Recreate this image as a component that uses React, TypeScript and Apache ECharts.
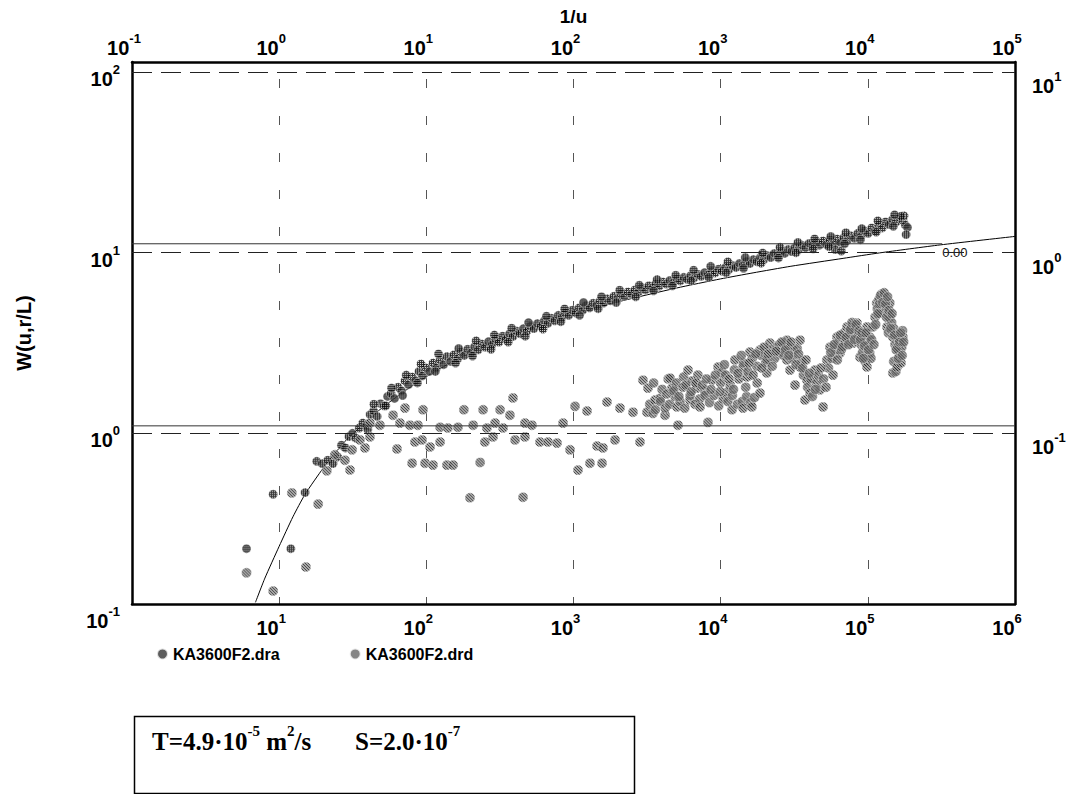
import React, { useEffect, useRef } from 'react';
import * as echarts from 'echarts';

// ---------------- data ----------------
const seriesNames = ['KA3600F2.dra', 'KA3600F2.drd'];

// time t (bottom axis) vs W (left axis)
const draData: number[][] = [
  [6.0, 0.23], [9.1, 0.46], [12.0, 0.23], [15.0, 0.47], [18.0, 0.70], [19.6, 0.68], [21.4, 0.71], [23.2, 0.68],
  [25.0, 0.74], [26.5, 0.86], [28.2, 0.83], [29.8, 0.96], [31.5, 1.0], [33.2, 0.94], [35.0, 1.07], [37.0, 1.14],
  [39.2, 1.1], [41.5, 1.27], [43.8, 1.33], [46.3, 1.24], [48.9, 1.46], [51.6, 1.42], [54.5, 1.6], [57.6, 1.66],
  [60.8, 1.56], [64.2, 1.8], [67.8, 1.72], [71.6, 1.95], [75.6, 1.86], [79.9, 2.05], [84.4, 1.96], [89.1, 2.2],
  [94.1, 2.08], [99.4, 2.3], [105, 2.2], [111, 2.45], [117, 2.3], [124, 2.55], [131, 2.4], [138, 2.66],
  [146, 2.5], [154, 2.72], [163, 2.58], [172, 2.82], [181, 2.7], [191, 2.92], [202, 2.8], [213, 3.02],
  [225, 2.9], [238, 3.12], [251, 3.0], [265, 3.22], [280, 3.1], [296, 3.32], [312, 3.2], [330, 3.45],
  [348, 3.32], [368, 3.56], [388, 3.44], [410, 3.68], [433, 3.56], [457, 3.8], [483, 3.68], [510, 3.92],
  [538, 3.8], [568, 4.05], [600, 3.92], [634, 4.2], [669, 4.06], [707, 4.34], [746, 4.2], [788, 4.5],
  [832, 4.36], [879, 4.64], [928, 4.5], [980, 4.8], [1035, 4.64], [1093, 4.95], [1154, 4.8], [1219, 5.1],
  [1287, 4.95], [1359, 5.25], [1435, 5.1], [1516, 5.4], [1601, 5.26], [1690, 5.56], [1785, 5.42], [1885, 5.74],
  [1991, 5.58], [2102, 5.9], [2220, 5.74], [2345, 6.06], [2476, 5.9], [2615, 6.22], [2761, 6.06], [2916, 6.4],
  [3079, 6.22], [3252, 6.56], [3434, 6.38], [3626, 6.72], [3829, 6.54], [4044, 6.88], [4270, 6.7], [4509, 7.02],
  [4762, 6.84], [5028, 7.16], [5310, 6.98], [5607, 7.3], [5921, 7.12], [6253, 7.45], [6603, 7.26], [6973, 7.6],
  [7363, 7.4], [7776, 7.76], [8211, 7.55], [8671, 7.92], [9157, 7.72], [9669, 8.1], [10210, 7.9], [10780, 8.3],
  [11390, 8.08], [12020, 8.5], [12700, 8.28], [13410, 8.72], [14160, 8.48], [14950, 8.94], [15790, 8.7], [16670, 9.16],
  [17610, 8.92], [18590, 9.4], [19630, 9.15], [20730, 9.64], [21890, 9.4], [23120, 9.9], [24410, 9.64], [25780, 10.15],
  [27220, 9.9], [28750, 10.42], [30360, 10.15], [32060, 10.7], [33850, 10.4], [35750, 10.98], [37750, 10.65], [39860, 11.25],
  [42090, 10.9], [44450, 11.45], [46940, 11.0], [49570, 11.6], [52340, 11.1], [55270, 11.75], [58370, 11.25], [60000, 10.4],
  [61640, 11.9], [65090, 11.4], [66000, 10.2], [68730, 12.1], [72580, 11.7], [76640, 12.4], [80930, 12.0], [85460, 12.8],
  [90250, 12.4], [95300, 13.2], [100600, 12.8], [106300, 13.7], [112200, 13.2], [118500, 14.2], [125100, 13.7], [132100, 14.8],
  [139500, 14.3], [147300, 15.3], [155600, 14.8], [164300, 15.6], [173500, 15.0], [180000, 14.2], [186000, 13.8], [176000, 16.0],
  [168000, 15.9], [182000, 12.6],
  // upper / lower edges of the band
  [40, 1.05], [44, 1.45], [53, 1.42], [58, 1.78], [69, 1.62], [73, 2.1], [87, 1.9], [92, 2.42],
  [115, 2.2], [121, 2.75], [158, 2.45], [166, 2.95], [206, 2.68], [218, 3.25], [275, 2.92], [290, 3.5],
  [360, 3.2], [380, 3.82], [470, 3.45], [495, 4.1], [620, 3.78], [655, 4.45], [820, 4.15], [870, 4.88],
  [1100, 4.5], [1170, 5.3], [1470, 4.9], [1550, 5.7], [1950, 5.3], [2060, 6.2], [2650, 5.7], [2800, 6.6],
  [3500, 6.15], [3700, 7.1], [4700, 6.55], [4950, 7.5], [6300, 7.0], [6550, 8.0], [8300, 7.3], [8550, 8.4],
  [10900, 7.75], [11200, 8.9], [14300, 8.2], [14700, 9.4], [18800, 8.75], [19300, 9.95], [24700, 9.35], [25300, 10.7],
  [32500, 10.0], [33500, 11.4], [42500, 10.5], [43500, 11.9], [54500, 10.8], [56000, 12.3], [69500, 11.2], [71000, 12.9],
  [89000, 11.8], [91000, 13.6], [114000, 13.0], [117000, 15.0], [149000, 14.0], [152000, 16.2],
];

const drdData: number[][] = [
  [6.0, 0.169], [9.1, 0.134], [12.2, 0.468], [15.2, 0.182], [18.4, 0.406], [21.1, 0.62], [23.9, 0.76], [28.0, 0.71],
  [30.3, 0.627], [31.3, 0.81], [35.4, 0.92], [38.3, 0.83], [41.4, 0.955], [41.4, 1.14], [48.4, 1.11], [59.4, 1.26],
  [63.2, 0.82], [66.2, 1.14], [71.6, 1.38], [77.4, 1.11], [80, 0.684], [83.7, 0.895], [87.7, 1.11], [93.5, 0.92],
  [94.9, 1.35], [98, 0.684], [106, 0.84], [111, 0.667], [124, 0.895], [124, 1.08], [138, 0.667], [140, 1.07],
  [152, 0.667], [164, 1.08], [180, 1.35], [198, 0.44], [208, 1.11], [232, 0.69], [243, 1.35], [250, 0.895],
  [258, 1.07], [284, 0.955], [293, 1.14], [317, 1.35], [332, 1.07], [370, 1.26], [388, 1.57], [401, 0.92],
  [454, 0.443], [468, 0.955], [468, 1.14], [522, 1.11], [592, 0.895], [671, 0.895], [773, 0.883], [849, 1.14],
  [947, 0.81], [1024, 1.41], [1073, 0.626], [1236, 1.33], [1294, 0.684], [1445, 0.851], [1563, 0.684], [1586, 0.83],
  [1689, 1.49], [1915, 0.92], [2070, 1.38], [2537, 1.31], [2830, 0.895], [2966, 1.97], [3157, 1.31], [3207, 1.78],
  [3300, 1.45], [3470, 1.29], [3500, 1.9], [3580, 1.53], [3600, 1.35], [3870, 1.56], [3900, 1.5], [4000, 1.75],
  [4190, 1.26], [4200, 1.38], [4400, 2.0], [4500, 1.45], [4530, 2.02], [4670, 1.78], [4900, 1.6], [5000, 1.9],
  [5050, 1.40], [5130, 1.11], [5300, 1.5], [5540, 1.80], [5600, 2.05], [5700, 1.38], [6000, 2.24], [6190, 1.53],
  [6200, 1.62], [6400, 1.95], [6700, 1.45], [6900, 1.78], [7000, 2.1], [7200, 1.55], [7240, 1.40], [7800, 1.72],
  [7820, 1.62], [8200, 1.15], [8400, 1.48], [8730, 1.97], [9000, 1.62], [9600, 2.33], [9700, 1.42], [10000, 1.9],
  [10200, 2.18], [10400, 1.55], [10800, 2.1], [11050, 1.69], [11200, 1.5], [11600, 1.85], [11950, 1.35], [12000, 1.62],
  [12400, 2.25], [12500, 2.55], [13000, 1.45], [13300, 2.0], [14000, 1.5], [14200, 1.38], [14200, 2.33], [14300, 2.45],
  [15000, 1.6], [15100, 2.05], [15300, 2.2], [15800, 2.82], [16000, 1.48], [16300, 1.40], [16400, 2.6], [17000, 1.58],
  [17600, 2.35], [17700, 1.90], [18500, 1.67], [18500, 2.89], [18900, 2.7], [20200, 2.45], [20600, 2.16], [20600, 2.55],
  [21600, 3.16], [21700, 2.9], [23300, 2.6], [24100, 3.0], [25000, 3.1], [25300, 2.82], [26800, 2.7], [28200, 3.28],
  [28200, 2.55], [28800, 3.0], [29600, 2.24], [30900, 2.6], [31000, 2.89], [32000, 1.85], [33100, 2.95], [34600, 3.28],
  [34600, 2.33], [35500, 2.5], [36500, 2.1], [37400, 1.53], [38600, 1.97], [39000, 1.8], [40500, 1.67], [41000, 2.0],
  [42000, 1.6], [43700, 2.24], [45000, 1.9], [46000, 2.1], [47300, 1.74], [49600, 1.40], [50000, 2.0], [52000, 1.8],
  [52700, 2.55], [54000, 2.3], [55300, 3.0], [57000, 2.6], [58000, 2.1], [60000, 2.9], [61700, 3.41], [63000, 3.2],
  [64700, 2.78], [66000, 2.9], [69000, 3.6], [70000, 3.2], [72200, 3.88], [75000, 3.6], [77000, 3.9], [79300, 3.16],
  [80000, 3.5], [82000, 3.8], [84400, 4.08], [86000, 3.5], [88500, 2.64], [90000, 3.1], [92000, 2.8], [94000, 3.3],
  [96000, 2.5], [98700, 3.88], [98700, 2.33], [100000, 3.1], [103000, 3.41], [103000, 2.78], [105000, 2.6], [108000, 3.88],
  [112000, 4.4], [115000, 5.26], [116000, 4.9], [119000, 5.5], [121000, 4.63], [124000, 5.9], [127000, 5.68], [130000, 5.5],
  [133000, 4.9], [135000, 3.88], [137000, 4.6], [138000, 3.6], [141000, 5.26], [141000, 4.40], [145000, 4.1], [148000, 3.41],
  [148000, 2.16], [150000, 3.8], [150000, 2.5], [153000, 3.1], [155000, 2.2], [158000, 3.0], [158000, 2.33], [160000, 3.4],
  [162000, 2.9], [165000, 2.64], [168000, 2.45], [170000, 3.0], [172000, 3.7], [173000, 3.41],
  // denser parts of the late-time cloud
  [4300, 1.65], [4800, 1.72], [5200, 1.6], [5800, 1.85], [6300, 1.7], [6800, 1.9],
  [7500, 1.85], [8000, 2.0], [8600, 1.75], [9200, 2.1], [9900, 1.7], [10600, 2.4], [11400, 2.0], [12200, 1.75],
  [13100, 2.15], [13800, 2.7], [14800, 1.8], [15600, 2.45], [16600, 2.1], [17300, 2.75], [19000, 2.3], [19700, 3.0],
  [21000, 2.75], [22400, 2.35], [23800, 2.85], [26000, 3.2], [27500, 2.9], [29000, 2.7], [30000, 3.2], [32500, 2.4],
  [33800, 2.75], [36000, 2.3], [38000, 2.55], [40000, 2.15], [44000, 1.75], [48000, 2.3],
  [56000, 2.8], [59000, 3.1], [62000, 2.55], [65000, 3.5], [67000, 3.0], [71000, 3.4], [74000, 3.1], [76000, 3.75],
  [78000, 4.1], [81000, 3.3], [83000, 4.0], [87000, 3.7], [89000, 3.3], [91000, 3.6], [93000, 2.6], [95000, 3.05],
  [97000, 3.6], [101000, 2.9], [106000, 3.3], [110000, 3.1],
  [113000, 4.0], [117000, 4.6], [120000, 5.2], [122000, 5.8], [126000, 5.3], [129000, 6.0], [132000, 5.2], [134000, 4.4],
  [136000, 5.7], [139000, 4.8], [143000, 3.8], [146000, 4.6], [152000, 3.5], [156000, 2.9], [161000, 2.6], [164000, 3.2],
  [167000, 3.6], [171000, 2.7], [175000, 3.2],
];

// fitted type curve (r/L = 0.00)
const typeCurve: number[][] = [
  [6.9, 0.116], [8, 0.158], [10, 0.237], [12.4, 0.345], [15, 0.46], [20, 0.645], [25, 0.81], [29, 0.93],
  [35, 1.07], [45, 1.29], [60, 1.55], [80, 1.83], [100, 2.06], [150, 2.49], [200, 2.79], [300, 3.23],
  [500, 3.79], [1000, 4.56], [2000, 5.34], [5000, 6.37], [10000, 7.16], [16600, 7.73], [30000, 8.41],
  [67900, 9.3], [120000, 9.97], [310000, 11.04], [1000000, 12.3],
];
const curveLabel = '0.00';
const curveLabelPoint: number[][] = [[390000, 10]];

// solid horizontal reference lines
const upperRefLine: number[][] = [[1, 11.2], [320000, 11.2]];
const lowerRefLine: number[][] = [[1, 1.1], [1000000, 1.1]];
// dashed horizontal lines at decades of W
const dashedLevels = [1, 10, 100];

// axes
const tAxisRange = [1, 1e6];
const invUAxisRange = [0.1, 1e5];
const wAxisRange = [0.1, 100];
const wRightAxisRange = [0.01, 10];

const xTitle = '1/u';
const yTitle = 'W(u,r/L)';
const resultParts = { T: '4.9·10', Texp: '-5', S: '2.0·10', Sexp: '-7' };

// ---------------- styles ----------------
const SANS = 'Arial, "Liberation Sans", Helvetica, sans-serif';
const SERIF = '"Times New Roman", "Liberation Serif", serif';

const labelRich = {
  b: { fontSize: 20, fontWeight: 'bold', fontFamily: SANS, color: '#000', lineHeight: 26, verticalAlign: 'bottom' },
  s: { fontSize: 13, fontWeight: 'bold', fontFamily: SANS, color: '#000', lineHeight: 11, verticalAlign: 'top' },
};
const powLabel = (v: number) => `{b|10}{s|${Math.round(Math.log10(v))}}`;

// symbols are unit paths scaled by size/2, so the tile is shrunk by the same factor
function makePattern(cells: string[][], symbolSize: number) {
  const h = cells.length;
  const w = cells[0].length;
  const c = document.createElement('canvas');
  c.width = w;
  c.height = h;
  const ctx = c.getContext('2d')!;
  cells.forEach((row, j) =>
    row.forEach((col, i) => {
      ctx.fillStyle = col;
      ctx.fillRect(i, j, 1, 1);
    })
  );
  const k = 2 / symbolSize;
  return { image: c, repeat: 'repeat', imageWidth: w, imageHeight: h, scaleX: k, scaleY: k } as any;
}

const DRA_SIZE = 9;
const DRD_SIZE = 10;

export default function App() {
  const ref = useRef<HTMLDivElement>(null);

  useEffect(() => {
    const el = ref.current!;
    const chart = echarts.init(el, undefined, { renderer: 'svg' });

    const draFill = makePattern(
      [
        ['#000', '#000'],
        ['#000', '#ccc'],
      ],
      DRA_SIZE
    );
    const drdFill = makePattern(
      [
        ['#111', '#999', '#999'],
        ['#999', '#111', '#999'],
        ['#999', '#999', '#111'],
      ],
      DRD_SIZE
    );

    const gridA = { left: 132, right: 56, top: 72, bottom: 180 };
    const gridB = { left: 132, right: 56, top: 62, bottom: 190 };
    const frameLine = { show: true, onZero: false, lineStyle: { color: '#000', width: 2.5 } };

    const option: any = {
      animation: false,
      backgroundColor: '#fff',
      grid: [gridA, gridB],
      legend: {
        data: seriesNames,
        left: 151,
        top: 641,
        orient: 'horizontal',
        icon: 'circle',
        itemWidth: 11,
        itemHeight: 11,
        itemGap: 69,
        textStyle: { fontSize: 16, fontWeight: 'bold', fontFamily: SANS, color: '#000' },
      },
      xAxis: [
        { gridIndex: 0, type: 'log', logBase: 10, min: tAxisRange[0], max: tAxisRange[1], show: false },
        {
          gridIndex: 1, type: 'log', logBase: 10, min: tAxisRange[0], max: tAxisRange[1], position: 'bottom',
          axisLine: frameLine, axisTick: { show: false },
          axisLabel: { formatter: powLabel, rich: labelRich, margin: 8, padding: [0, 16, 0, 0], showMinLabel: false },
          splitLine: { show: true, lineStyle: { color: '#555', width: 1, type: [9, 28], dashOffset: 20 } },
        },
        {
          gridIndex: 1, type: 'log', logBase: 10, min: invUAxisRange[0], max: invUAxisRange[1], position: 'top',
          axisLine: frameLine, axisTick: { show: false },
          axisLabel: { formatter: powLabel, rich: labelRich, margin: 4, padding: [0, 16, 0, 0] },
          splitLine: { show: false },
          name: xTitle, nameLocation: 'middle', nameGap: 36,
          nameTextStyle: { fontSize: 19, fontWeight: 'bold', fontFamily: SANS, color: '#000' },
        },
      ],
      yAxis: [
        {
          gridIndex: 0, type: 'log', logBase: 10, min: wAxisRange[0], max: wAxisRange[1], position: 'left',
          axisLine: { show: false }, axisTick: { show: false }, splitLine: { show: false },
          axisLabel: { formatter: powLabel, rich: labelRich, margin: 12, padding: [8, 0, 0, 0] },
        },
        {
          gridIndex: 0, type: 'log', logBase: 10, min: wRightAxisRange[0], max: wRightAxisRange[1], position: 'right',
          axisLine: { show: false }, axisTick: { show: false }, splitLine: { show: false },
          axisLabel: { formatter: powLabel, rich: labelRich, margin: 17, padding: [22, 0, 0, 0], showMinLabel: false },
        },
        {
          gridIndex: 1, type: 'value', min: 0, max: 1, position: 'left',
          axisLine: frameLine, axisTick: { show: false }, axisLabel: { show: false }, splitLine: { show: false },
          name: yTitle, nameLocation: 'middle', nameRotate: 90, nameGap: 98,
          nameTextStyle: { fontSize: 20, fontWeight: 'bold', fontFamily: SANS, color: '#000' },
        },
        {
          gridIndex: 1, type: 'value', min: 0, max: 1, position: 'right',
          axisLine: frameLine, axisTick: { show: false }, axisLabel: { show: false }, splitLine: { show: false },
        },
      ],
      series: [
        {
          type: 'line', name: 'type curve', xAxisIndex: 0, yAxisIndex: 0, data: typeCurve,
          showSymbol: false, smooth: 0.2, lineStyle: { color: '#000', width: 1 }, silent: true, z: 1,
        },
        {
          type: 'scatter', name: seriesNames[0], xAxisIndex: 0, yAxisIndex: 0, data: draData,
          symbol: 'circle', symbolSize: DRA_SIZE,
          itemStyle: { color: draFill, borderColor: '#fff', borderWidth: 0.5 }, z: 2,
        },
        {
          type: 'scatter', name: seriesNames[1], xAxisIndex: 0, yAxisIndex: 0, data: drdData,
          symbol: 'circle', symbolSize: DRD_SIZE,
          itemStyle: { color: drdFill, borderColor: '#fff', borderWidth: 0.5 }, z: 2,
        },
        {
          type: 'line', name: 'upper ref', xAxisIndex: 0, yAxisIndex: 0, data: upperRefLine,
          showSymbol: false, lineStyle: { color: '#333', width: 1 }, silent: true, z: 3,
        },
        {
          type: 'line', name: 'lower ref', xAxisIndex: 0, yAxisIndex: 0, data: lowerRefLine,
          showSymbol: false, lineStyle: { color: '#333', width: 1 }, silent: true, z: 3,
          markLine: {
            silent: true, symbol: ['none', 'none'], label: { show: false },
            lineStyle: { color: '#222', width: 1, type: [20, 9] },
            data: dashedLevels.map((v) => ({ yAxis: v })),
          },
        },
        {
          type: 'scatter', name: 'curve label', xAxisIndex: 0, yAxisIndex: 0, data: curveLabelPoint,
          symbolSize: 2, itemStyle: { color: 'rgba(0,0,0,0)' }, silent: true, z: 4,
          label: {
            show: true, position: 'inside', formatter: curveLabel,
            fontSize: 13, fontFamily: SANS, color: '#111', opacity: 1,
          },
        },
      ],
      graphic: [
        {
          type: 'rect', left: 132, top: 714,
          shape: { width: 500, height: 77 },
          style: { fill: 'none', stroke: '#000', lineWidth: 1.5 },
        },
        {
          type: 'text', left: 152, top: 723,
          style: {
            text: `{a|T=${resultParts.T}}{e|${resultParts.Texp}}{a| m}{e|2}{a|/s       S=${resultParts.S}}{e|${resultParts.Sexp}}`,
            rich: {
              a: { fontFamily: SERIF, fontWeight: 'bold', fontSize: 25, fill: '#000', lineHeight: 31, verticalAlign: 'bottom' },
              e: { fontFamily: SERIF, fontWeight: 'bold', fontSize: 15, fill: '#000', lineHeight: 15, verticalAlign: 'top' },
            },
          },
        },
      ],
    };

    chart.setOption(option);
    return () => chart.dispose();
  }, []);

  return (
    <div
      ref={ref}
      style={{ position: 'absolute', left: 0, top: 0, width: 1071, height: 794, background: '#fff' }}
    />
  );
}
